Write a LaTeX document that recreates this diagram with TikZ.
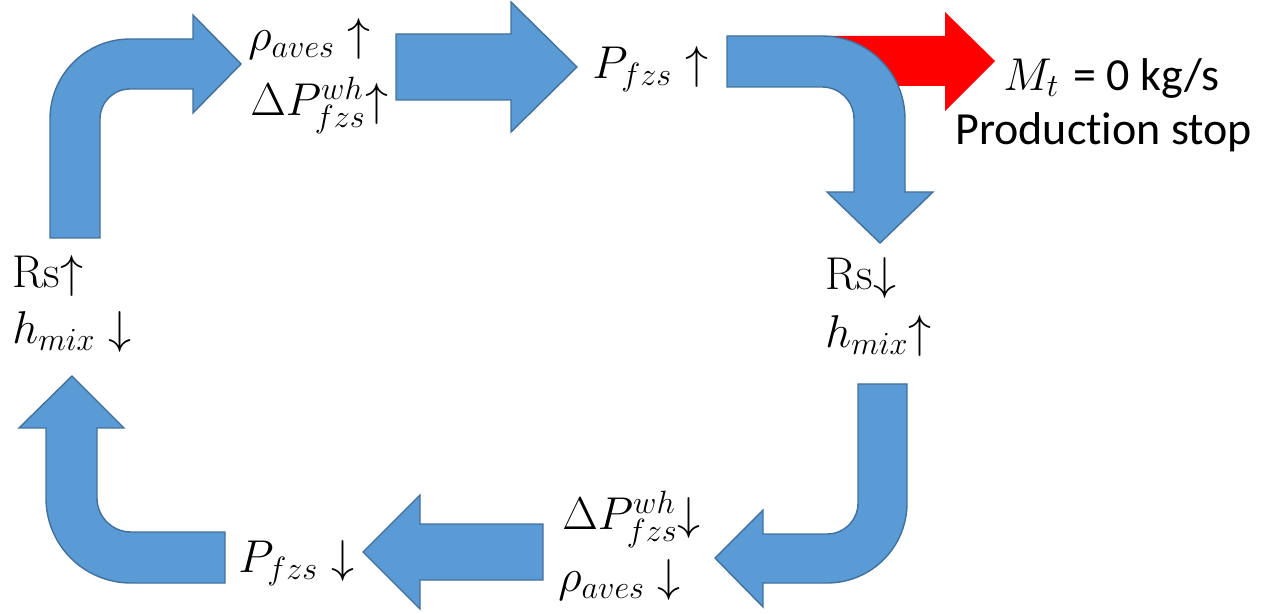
\RequirePackage{fix-cm}
\documentclass[tikz,border=0pt]{standalone}
\usepackage{fontspec}
\newfontfamily\calibri[Ligatures=NoCommon]{Carlito}
\definecolor{officeblue}{HTML}{5B9BD5}
\definecolor{officeedge}{HTML}{41719C}
\definecolor{stopred}{HTML}{FF0000}
\begin{document}
\begin{tikzpicture}[x=0.5pt,y=-0.5pt,
  blockarrow/.style={fill=officeblue,draw=officeedge,line width=0.7pt,line join=miter},
  redarrow/.style={fill=stopred},
  mathlbl/.style={inner sep=0pt,font=\fontsize{23}{27}\selectfont},
  textlbl/.style={inner sep=0pt,font=\calibri\fontsize{23}{28}\selectfont}]
\useasboundingbox (0,0) rectangle (1274,614);

% red side arrow (behind)
\fill[redarrow] (830,36) -- (945,36) -- (945,12) -- (995,61) -- (945,111) -- (945,86) -- (830,86) -- cycle;

% top-left bent arrow
\draw[blockarrow] (50,238) -- (50,119) to[out=90,in=180] (130,39) -- (193,39) -- (193,15) -- (241,64) -- (193,113) -- (193,89) -- (130,89) to[out=180,in=90] (100,119) -- (100,238) -- cycle;

% top-middle arrow
\draw[blockarrow] (396,34) -- (511,34) -- (511,2) -- (577,67) -- (511,132) -- (511,100) -- (396,100) -- cycle;

% top-right bent arrow
\draw[blockarrow] (727,36) -- (822,36) to[out=0,in=90] (905,119) -- (905,192) -- (933,192) -- (880,243) -- (827,192) -- (854,192) -- (854,119) to[out=90,in=0] (822,87) -- (727,87) -- cycle;

% bottom-right bent arrow
\draw[blockarrow] (858,384) -- (907,384) -- (907,503) to[out=-90,in=0] (827,583) -- (763,583) -- (763,607) -- (715,558) -- (763,510) -- (763,534) -- (827,534) to[out=0,in=-90] (858,503) -- cycle;

% bottom-middle arrow
\draw[blockarrow] (543,524) -- (420,524) -- (420,495) -- (363,552) -- (420,609) -- (420,580) -- (543,580) -- cycle;

% bottom-left bent arrow
\draw[blockarrow] (225,532) -- (131,532) to[out=180,in=-90] (97,498) -- (97,428) -- (124,428) -- (72,376) -- (19,428) -- (46,428) -- (46,498) to[out=-90,in=180] (131,583) -- (225,583) -- cycle;

% labels
\node[mathlbl,anchor=west] (rhoup) at (248,39) {$\rho_{aves}\uparrow$};
\node[mathlbl,anchor=west] (dpup) at (250,105) {$\Delta P_{fzs}^{wh}\mathord{\uparrow}$};
\node[mathlbl,anchor=west] (pup) at (592,69) {$P_{fzs}\uparrow$};
\node[mathlbl,anchor=west] (mt) at (1003,78) {$M_t$\ {\calibri\fontsize{23}{28}\selectfont = 0 kg/s}};
\node[textlbl,anchor=base west] (stop) at (955,145) {Produc\kern0pt tion stop};
\node[mathlbl,anchor=base west] (rsup) at (12,288) {Rs$\mathord{\uparrow}$};
\node[mathlbl,anchor=base west] (hdown) at (12,344) {$h_{mix}\downarrow$};
\node[mathlbl,anchor=base west] (rsdown) at (825,290) {Rs$\mathord{\downarrow}$};
\node[mathlbl,anchor=base west] (hup) at (825,348) {$h_{mix}\mathord{\uparrow}$};
\node[mathlbl,anchor=west] (dpdown) at (562,519) {$\Delta P_{fzs}^{wh}\mathord{\downarrow}$};
\node[mathlbl,anchor=west] (rhodown) at (558,580) {$\rho_{aves}\downarrow$};
\node[mathlbl,anchor=west] (pdown) at (238,563) {$P_{fzs}\downarrow$};
\end{tikzpicture}
\end{document}
